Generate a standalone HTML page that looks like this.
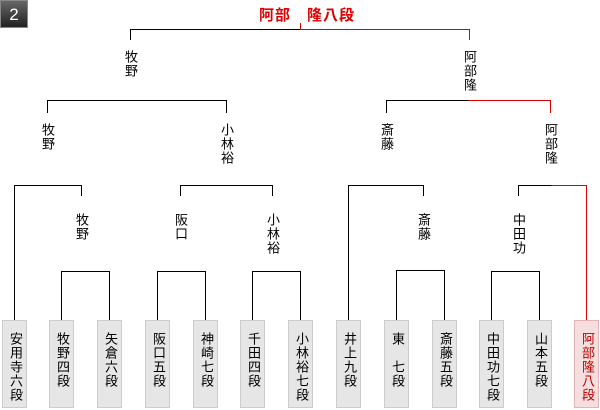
<!DOCTYPE html>
<html><head><meta charset="utf-8"><style>
body{margin:0;background:#fff;width:600px;height:410px;overflow:hidden;position:relative;font-family:"Liberation Sans","Noto Sans CJK JP",sans-serif;}
.v{position:absolute;writing-mode:vertical-rl;font-size:13px;line-height:14px;width:14px;letter-spacing:1px;color:#000;}
.b{position:absolute;top:320px;width:25px;height:88px;background:#e6e6e6;border:1px solid #ccc;box-sizing:border-box;}
.b span{position:absolute;left:5px;top:11px;writing-mode:vertical-rl;font-size:13px;line-height:14px;letter-spacing:1px;}
.r{background:#f6dede;border-color:#e2b4b4;}
.r span{color:#b00;}
#badge{position:absolute;left:0;top:0;width:28px;height:28px;background:linear-gradient(#666,#222);color:#fff;font-size:17px;text-align:center;line-height:28px;border:1px solid #888;box-sizing:border-box;}
#title{position:absolute;left:259px;top:4px;font-size:15px;font-weight:bold;color:#d00;letter-spacing:1px;white-space:nowrap;}
</style></head><body>
<div id="badge">2</div>
<div id="title">阿部　隆八段</div>
<svg width="600" height="410" style="position:absolute;left:0;top:0" shape-rendering="crispEdges">
<g stroke="#000" stroke-width="1" fill="none">
<!-- L4 -->
<path d="M130.5 40V29.5H300.5"/>
<!-- L3 -->
<path d="M47.5 113V100.5H226.5V113"/>
<path d="M386.5 113V100.5H468.5"/>
<!-- L2 -->
<path d="M14.5 320V185.5H81.5V196"/>
<path d="M180.5 196V185.5H272.5V196"/>
<path d="M348.5 320V185.5H423.5V196"/>
<path d="M518.5 196V185.5H551.5"/>
<!-- L1 -->
<path d="M61.5 320V271.5H109.5V320"/>
<path d="M157.5 320V271.5H205.5V320"/>
<path d="M252.5 320V271.5H300.5V320"/>
<path d="M396.5 320V270.5H444.5V320"/>
<path d="M491.5 320V271.5H539.5V320"/>
</g>
<g stroke="#d00" stroke-width="1" fill="none">
<path d="M300.5 23V29.5H469.5V40"/>
<path d="M468.5 100.5H550.5V113"/>
<path d="M551.5 185.5H586.5V320"/>
</g>
</svg>
<div class="v" style="left:123px;top:50px">牧野</div>
<div class="v" style="left:462px;top:50px">阿部隆</div>
<div class="v" style="left:40px;top:123px">牧野</div>
<div class="v" style="left:219px;top:123px">小林裕</div>
<div class="v" style="left:379px;top:123px">斎藤</div>
<div class="v" style="left:543px;top:123px">阿部隆</div>
<div class="v" style="left:74px;top:213px">牧野</div>
<div class="v" style="left:173px;top:213px">阪口</div>
<div class="v" style="left:265px;top:213px">小林裕</div>
<div class="v" style="left:416px;top:213px">斎藤</div>
<div class="v" style="left:511px;top:213px">中田功</div>
<div class="b" style="left:2px"><span>安用寺六段</span></div>
<div class="b" style="left:49px"><span>牧野四段</span></div>
<div class="b" style="left:97px"><span>矢倉六段</span></div>
<div class="b" style="left:145px"><span>阪口五段</span></div>
<div class="b" style="left:193px"><span>神崎七段</span></div>
<div class="b" style="left:240px"><span>千田四段</span></div>
<div class="b" style="left:288px"><span>小林裕七段</span></div>
<div class="b" style="left:336px"><span>井上九段</span></div>
<div class="b" style="left:384px"><span>東　七段</span></div>
<div class="b" style="left:432px"><span>斎藤五段</span></div>
<div class="b" style="left:479px"><span>中田功七段</span></div>
<div class="b" style="left:527px"><span>山本五段</span></div>
<div class="b r" style="left:574px"><span>阿部隆八段</span></div>
</body></html>
